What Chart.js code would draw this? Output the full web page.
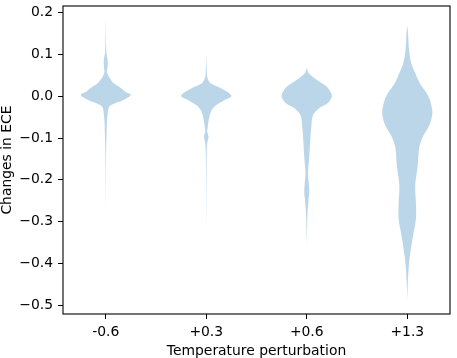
<!DOCTYPE html>
<html>
<head>
<meta charset="utf-8">
<script src="https://cdn.jsdelivr.net/npm/chart.js@4.4.0/dist/chart.umd.min.js"></script>
<style>
    html, body { margin: 0; padding: 0; background: #fff; }
    #wrap { width: 457px; height: 358px; }
</style>
</head>
<body>
<div id="wrap"><canvas id="violinChart"></canvas></div>
<script>
// categories on the x axis
const categories = ['-0.6', '+0.3', '+0.6', '+1.3'];
const positions = [1, 2, 3, 4];
const yTicks = [-0.5, -0.4, -0.3, -0.2, -0.1, 0.0, 0.1, 0.2];

// violin outlines: level (change in ECE) and relative half width (1 = widest)
const v1Levels = [0.183, 0.15, 0.12, 0.103, 0.09, 0.082, 0.07, 0.058, 0.046, 0.031, 0.02, 0.01, 0.003, -0.009, -0.017, -0.025, -0.04, -0.06, -0.088, -0.12, -0.15, -0.2, -0.265];
const v1Widths = [0, 0.008, 0.015, 0.03, 0.07, 0.08, 0.07, 0.05, 0.13, 0.32, 0.6, 0.8, 1.0, 0.7, 0.37, 0.14, 0.08, 0.05, 0.035, 0.02, 0.012, 0.006, 0];

const v2Levels = [0.103, 0.08, 0.06, 0.046, 0.031, 0.02, 0.01, 0.0, -0.009, -0.021, -0.033, -0.05, -0.073, -0.085, -0.097, -0.112, -0.136, -0.2, -0.26, -0.315];
const v2Widths = [0, 0.01, 0.02, 0.04, 0.17, 0.56, 0.85, 1.0, 0.73, 0.4, 0.22, 0.12, 0.06, 0.04, 0.09, 0.04, 0.02, 0.008, 0.004, 0];

const v3Levels = [0.067, 0.055, 0.039, 0.023, 0.01, -0.001, -0.017, -0.028, -0.045, -0.073, -0.105, -0.145, -0.184, -0.208, -0.229, -0.248, -0.28, -0.32, -0.356];
const v3Widths = [0, 0.08, 0.4, 0.8, 0.95, 1.0, 0.83, 0.5, 0.25, 0.18, 0.14, 0.1, 0.05, 0.08, 0.1, 0.07, 0.03, 0.012, 0];

const v4Levels = [0.17, 0.151, 0.111, 0.079, 0.055, 0.031, 0.007, -0.009, -0.037, -0.057, -0.073, -0.097, -0.121, -0.145, -0.169, -0.19, -0.209, -0.23, -0.248, -0.27, -0.289, -0.305, -0.32, -0.352, -0.384, -0.416, -0.45, -0.487];
const v4Widths = [0, 0.03, 0.07, 0.16, 0.32, 0.5, 0.77, 0.9, 1.0, 0.95, 0.85, 0.62, 0.48, 0.44, 0.41, 0.36, 0.32, 0.32, 0.34, 0.35, 0.35, 0.32, 0.27, 0.18, 0.1, 0.05, 0.02, 0];

const violinLevels = [v1Levels, v2Levels, v3Levels, v4Levels];
const violinWidths = [v1Widths, v2Widths, v3Widths, v4Widths];

const HALF_WIDTH = 0.25; // matplotlib widths=0.5
const FONT = { family: '"DejaVu Sans"', size: 13.9 };

// 외곽선: 오른쪽은 위에서 아래로, 왼쪽은 아래에서 위로
function outline(i) {
    const levels = violinLevels[i];
    const widths = violinWidths[i];
    const pts = [];
    for (let k = 0; k < levels.length; k++) {
        pts.push({ x: positions[i] + widths[k] * HALF_WIDTH, y: levels[k] });
    }
    for (let k = levels.length - 1; k >= 0; k--) {
        pts.push({ x: positions[i] - widths[k] * HALF_WIDTH, y: levels[k] });
    }
    return pts;
}

const datasets = categories.map((c, i) => ({
    label: c,
    data: outline(i),
    fill: 'shape',
    backgroundColor: 'rgba(31, 119, 180, 0.3)',
    borderWidth: 0,
    pointRadius: 0,
    tension: 0.3
}));

// 축 테두리 (matplotlib spines)
const framePlugin = {
    id: 'frame',
    afterDraw(chart) {
        const { ctx, chartArea: a } = chart;
        ctx.save();
        ctx.strokeStyle = '#000';
        ctx.lineWidth = 1.1;
        ctx.strokeRect(a.left, a.top, a.right - a.left, a.bottom - a.top);
        ctx.restore();
    }
};

new Chart(document.getElementById('violinChart'), {
    type: 'line',
    data: { datasets: datasets },
    plugins: [framePlugin],
    options: {
        responsive: true,
        maintainAspectRatio: false,
        animation: false,
        layout: { padding: { left: 0, top: 6, right: 7, bottom: 0 } },
        plugins: { legend: { display: false }, tooltip: { enabled: false } },
        scales: {
            x: {
                type: 'linear',
                min: 0.575,
                max: 4.425,
                afterBuildTicks: (scale) => { scale.ticks = positions.map(v => ({ value: v })); },
                afterFit: (scale) => {
                    scale.height = 44;
                    scale.paddingLeft = 0;
                    scale.paddingRight = 0;
                },
                ticks: {
                    color: '#000',
                    font: FONT,
                    padding: 5,
                    maxRotation: 0,
                    callback: (value) => categories[positions.indexOf(value)]
                },
                grid: { drawOnChartArea: false, drawTicks: true, tickLength: 5, tickColor: '#000', tickWidth: 1 },
                border: { display: false },
                title: {
                    display: true,
                    text: 'Temperature perturbation',
                    color: '#000',
                    font: { family: '"DejaVu Sans"', size: 13.9, lineHeight: 1.0 },
                    padding: { top: 0, bottom: 0 }
                }
            },
            y: {
                type: 'linear',
                min: -0.521,
                max: 0.216,
                afterBuildTicks: (scale) => { scale.ticks = yTicks.map(v => ({ value: v })); },
                afterFit: (scale) => {
                    scale.width = 63;
                    scale.paddingTop = 0;
                    scale.paddingBottom = 0;
                },
                ticks: {
                    color: '#000',
                    font: FONT,
                    padding: 5,
                    callback: (value) => (value < -1e-9 ? '\u2212' : '') + Math.abs(value).toFixed(1)
                },
                grid: { drawOnChartArea: false, drawTicks: true, tickLength: 5, tickColor: '#000', tickWidth: 1 },
                border: { display: false },
                title: {
                    display: true,
                    text: 'Changes in ECE',
                    color: '#000',
                    font: { family: '"DejaVu Sans"', size: 13.9, lineHeight: 1.0 },
                    padding: { top: 0, bottom: 0 }
                }
            }
        }
    }
});
</script>
</body>
</html>
